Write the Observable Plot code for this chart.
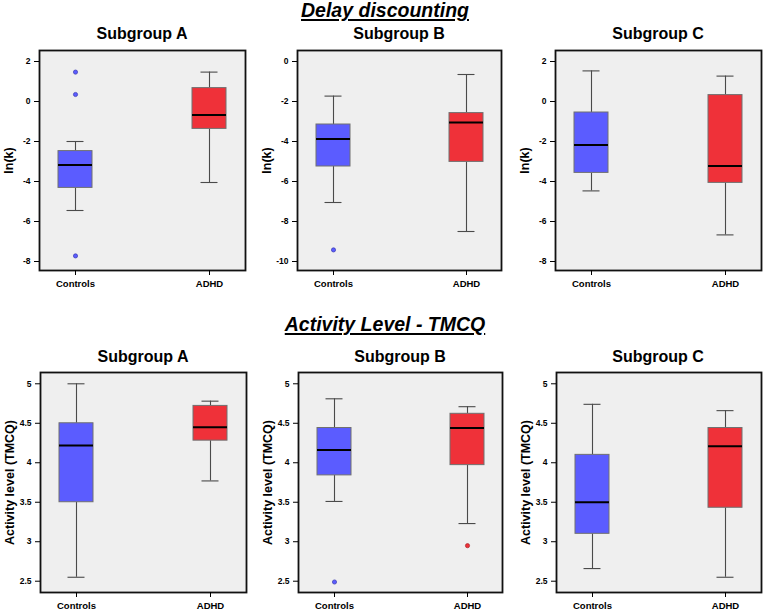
<!DOCTYPE html>
<html>
<head>
<meta charset="utf-8">
<script src="https://cdn.jsdelivr.net/npm/d3@7"></script>
<script src="https://cdn.jsdelivr.net/npm/@observablehq/plot@0.6"></script>
<style>
  body { margin: 0; background: #fff; font-family: "Liberation Sans", Arial, sans-serif; }
  #root { position: relative; width: 764px; height: 611px; overflow: hidden; }
  .heading { position: absolute; width: 320px; text-align: center; font-weight: bold; font-style: italic;
             font-size: 19.5px; line-height: 1; text-decoration: underline; text-decoration-thickness: 2px;
             text-underline-offset: 2px; color: #000; }
  .sub { position: absolute; width: 200px; text-align: center; font-weight: bold; font-size: 16px; line-height: 1; color: #000; }
  .panel { position: absolute; }
</style>
</head>
<body>
<div id="root"></div>
<script>
// ---------- data ----------
const groups = ["Controls", "ADHD"];
const subgroupTitles = ["Subgroup A", "Subgroup B", "Subgroup C"];
const sectionTitles = ["Delay discounting", "Activity Level - TMCQ"];
const yLabels = ["ln(k)", "Activity level (TMCQ)"];

// box statistics per group: [lower whisker, Q1, median, Q3, upper whisker]
const delayA = [[-5.45, -4.32, -3.18, -2.48, -2.0], [-4.05, -1.37, -0.67, 0.67, 1.47]];
const delayB = [[-7.05, -5.25, -3.88, -3.15, -1.73], [-8.5, -5.02, -3.05, -2.58, -0.65]];
const delayC = [[-4.47, -3.57, -2.17, -0.55, 1.53], [-6.67, -4.07, -3.23, 0.32, 1.27]];
const activityA = [[2.55, 3.50, 4.22, 4.50, 5.0], [3.77, 4.28, 4.45, 4.72, 4.78]];
const activityB = [[3.51, 3.84, 4.16, 4.44, 4.81], [3.23, 3.97, 4.44, 4.62, 4.71]];
const activityC = [[2.66, 3.10, 3.50, 4.10, 4.74], [2.55, 3.43, 4.21, 4.44, 4.66]];

// outliers: [group, value]
const delayOutA = [["Controls", 1.47], ["Controls", 0.35], ["Controls", -7.72]];
const delayOutB = [["Controls", -9.42]];
const delayOutC = [];
const activityOutA = [];
const activityOutB = [["Controls", 2.49], ["ADHD", 2.95]];
const activityOutC = [];

// tick values
const delayTicksAC = [2, 0, -2, -4, -6, -8];
const delayTicksB = [0, -2, -4, -6, -8, -10];
const activityTicks = [5, 4.5, 4, 3.5, 3, 2.5];

// ---------- drawing ----------
const FONT = "'Liberation Sans', Arial, sans-serif";
const colors = ["#5b5cff", "#ef3139"];
const dotStroke = {Controls: "#3a3ab0", ADHD: "#a82228"};

function boxPanel(cfg) {
  const rows = groups.map((g, i) => ({
    group: g, lo: cfg.stats[i][0], q1: cfg.stats[i][1], med: cfg.stats[i][2], q3: cfg.stats[i][3], hi: cfg.stats[i][4]
  }));
  const outs = cfg.outliers.map(([g, v]) => ({group: g, value: v}));
  const svg = Plot.plot({
    width: cfg.width, height: cfg.height,
    marginLeft: cfg.ml, marginRight: cfg.mr, marginTop: cfg.mt, marginBottom: cfg.mb,
    style: {background: "transparent", fontFamily: FONT, overflow: "visible", color: "#000"},
    x: {type: "band", domain: groups, paddingInner: 0.747, paddingOuter: 0.139},
    y: {domain: cfg.yDomain},
    color: {domain: groups, range: colors},
    marks: [
      Plot.frame({fill: "#efefef", stroke: "none"}),
      Plot.ruleX(rows, {x: "group", y1: "q3", y2: "hi", stroke: "#4a4a4a", strokeWidth: 1.1}),
      Plot.ruleX(rows, {x: "group", y1: "lo", y2: "q1", stroke: "#4a4a4a", strokeWidth: 1.1}),
      Plot.tickY(rows, {x: "group", y: "hi", insetLeft: 8.5, insetRight: 8.5, stroke: "#4a4a4a", strokeWidth: 1.1}),
      Plot.tickY(rows, {x: "group", y: "lo", insetLeft: 8.5, insetRight: 8.5, stroke: "#4a4a4a", strokeWidth: 1.1}),
      Plot.barY(rows, {x: "group", y1: "q1", y2: "q3", fill: "group", stroke: "#707070", strokeWidth: 1}),
      Plot.tickY(rows, {x: "group", y: "med", stroke: "#000", strokeWidth: 2}),
      Plot.dot(outs, {x: "group", y: "value", fill: "group", stroke: d => dotStroke[d.group], strokeWidth: 0.7, r: 2.1}),
      Plot.frame({stroke: "#111", strokeWidth: 1.8}),
      Plot.axisY({ticks: cfg.ticks, tickSize: 5, tickPadding: 4, fontWeight: "bold", fontSize: 8.5,
                  label: null, tickFormat: d => String(d), stroke: "#000"}),
      Plot.axisX({tickSize: 5, tickPadding: 5, fontWeight: "bold", fontSize: 9.5, label: null, stroke: "#000"}),
      Plot.text([cfg.label], {frameAnchor: "left", rotate: -90, dx: -31, fontSize: 12.5, fontWeight: "bold",
                              fill: "#000", textAnchor: "middle", lineAnchor: "middle"})
    ]
  });
  svg.classList.add("panel");
  svg.style.left = cfg.left + "px";
  svg.style.top = cfg.top + "px";
  return svg;
}

const root = document.getElementById("root");

const topRow = {top: 40, height: 260, mt: 10, mb: 30};
const botRow = {top: 362, height: 249, mt: 10, mb: 19};

const panels = [
  {...topRow, left: 0,   width: 251, ml: 39, mr: 6, stats: delayA, outliers: delayOutA, yDomain: [-8.45, 2.55], ticks: delayTicksAC, label: yLabels[0]},
  {...topRow, left: 255, width: 250, ml: 42, mr: 4, stats: delayB, outliers: delayOutB, yDomain: [-10.45, 0.55], ticks: delayTicksB, label: yLabels[0]},
  {...topRow, left: 512, width: 252, ml: 43, mr: 3, stats: delayC, outliers: delayOutC, yDomain: [-8.45, 2.55], ticks: delayTicksAC, label: yLabels[0]},
  {...botRow, left: 0,   width: 251, ml: 40, mr: 5, stats: activityA, outliers: activityOutA, yDomain: [2.357, 5.143], ticks: activityTicks, label: yLabels[1]},
  {...botRow, left: 255, width: 251, ml: 43, mr: 4, stats: activityB, outliers: activityOutB, yDomain: [2.357, 5.143], ticks: activityTicks, label: yLabels[1]},
  {...botRow, left: 512, width: 252, ml: 44, mr: 3, stats: activityC, outliers: activityOutC, yDomain: [2.357, 5.143], ticks: activityTicks, label: yLabels[1]}
];
panels.forEach(p => root.appendChild(boxPanel(p)));

// titles (on top of the plots)
function addDiv(cls, text, cx, top, w) {
  const d = document.createElement("div");
  d.className = cls;
  d.textContent = text;
  d.style.left = (cx - w / 2) + "px";
  d.style.top = top + "px";
  root.appendChild(d);
}
addDiv("heading", sectionTitles[0], 385, 1, 320);
addDiv("heading", sectionTitles[1], 385, 315, 320);
const subCentersTop = [142, 399, 658];
const subCentersBot = [143, 400, 658];
subgroupTitles.forEach((t, i) => addDiv("sub", t, subCentersTop[i], 26, 200));
subgroupTitles.forEach((t, i) => addDiv("sub", t, subCentersBot[i], 349, 200));
</script>
</body>
</html>
